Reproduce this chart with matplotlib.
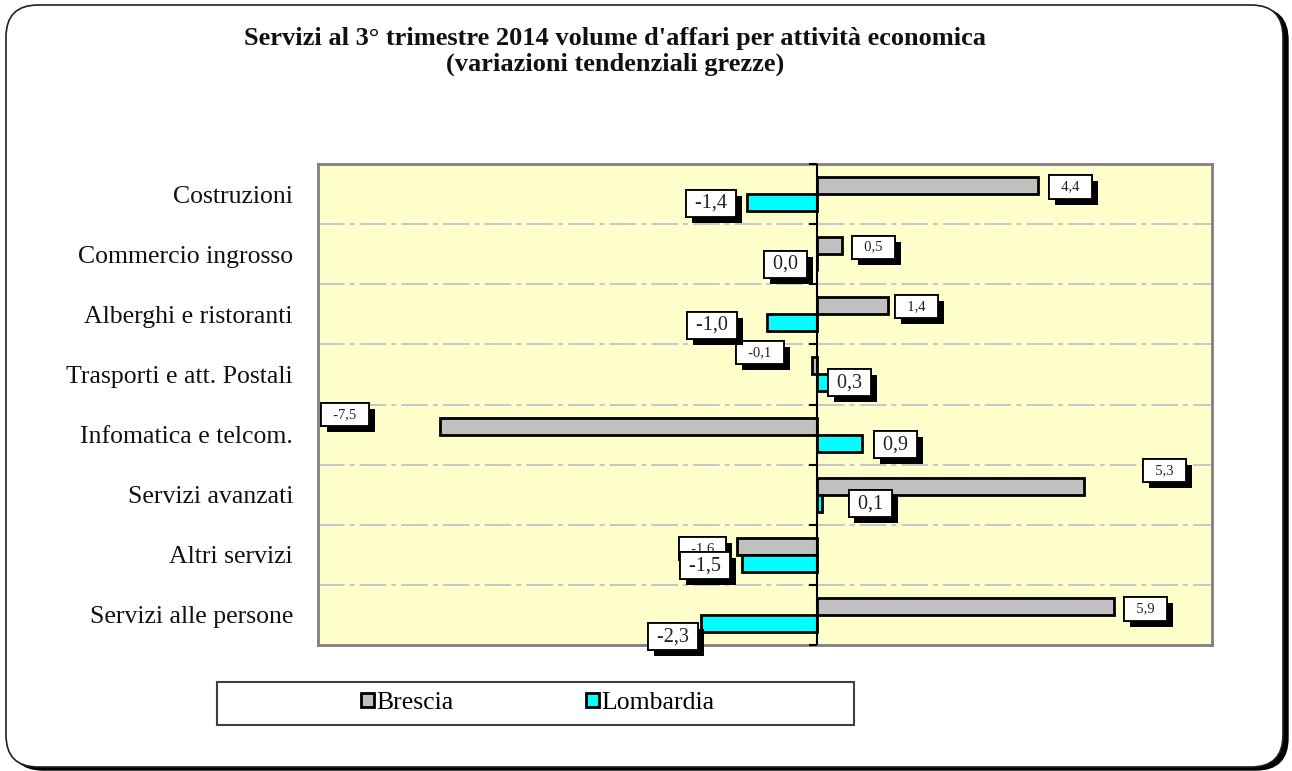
import matplotlib
matplotlib.use("Agg")
import matplotlib.pyplot as plt
import matplotlib.patheffects as pe
from matplotlib.patches import FancyBboxPatch, Rectangle, Patch
import numpy as np

# ---- data ----
categories = ["Costruzioni", "Commercio ingrosso", "Alberghi e ristoranti",
              "Trasporti e att. Postali", "Infomatica e telcom.", "Servizi avanzati",
              "Altri servizi", "Servizi alle persone"]
brescia = [4.4, 0.5, 1.4, -0.1, -7.5, 5.3, -1.6, 5.9]
lombardia = [-1.4, 0.0, -1.0, 0.3, 0.9, 0.1, -1.5, -2.3]
series_names = ["Brescia", "Lombardia"]
title_lines = ["Servizi al 3° trimestre 2014 volume d'affari per attività economica",
               "(variazioni tendenziali grezze)"]

# label offsets (pixels, relative to bar end / bar centre) - layout only
brescia_off = [(32, 1.5), (31, 1.5), (29, 0.5), (-52, -13.5), (-95, -11.5), (81, -15.5), (-34, 2), (32, 2.5)]
lombardia_off = [(-36, 0.5), (-32, 1.5), (-55, 2.5), (17, 0), (33, 1.5), (48, 0.5), (-37, 2.5), (-28, 13.5)]

SERIF = ["Liberation Serif", "DejaVu Serif"]
W, H = 1292, 771
fig = plt.figure(figsize=(W / 100, H / 100), dpi=100)

# outer rounded frame with shadow
shadow = FancyBboxPatch((0.11, 0.01), 12.77, 7.62, boxstyle="round,pad=0,rounding_size=0.32",
                        transform=fig.dpi_scale_trans, facecolor="black", edgecolor="black",
                        zorder=-3)
frame = FancyBboxPatch((0.06, 0.04), 12.77, 7.62, boxstyle="round,pad=0,rounding_size=0.32",
                       transform=fig.dpi_scale_trans, facecolor="white", edgecolor="#202020",
                       linewidth=1.2, zorder=-2)
fig.add_artist(shadow)
fig.add_artist(frame)

ax = fig.add_axes([318 / W, (H - 645) / H, (1212 - 318) / W, (645 - 164) / H])
ax.set_facecolor("#FFFFCC")
for s in ax.spines.values():
    s.set_color("#808080")
    s.set_linewidth(2)

n = len(categories)
centers = np.arange(n) + 0.5
h = 0.283
ax.barh(centers - h / 2, brescia, height=h, color="#C0C0C0", edgecolor="black", linewidth=2, zorder=3)
ax.barh(centers + h / 2, lombardia, height=h, color="#00FFFF", edgecolor="black", linewidth=2, zorder=3)

ax.set_xlim(-9.92, 7.85)
ax.set_ylim(n, 0)

# gridlines at band boundaries
for b in range(1, n):
    ax.axhline(b, color="#BDBDCC", linewidth=1.2, dashes=(16, 3, 3, 3), zorder=1)

# zero axis with ticks
ax.axvline(0, color="black", linewidth=1.5, zorder=4)
ax.plot(np.zeros(n + 1), np.arange(n + 1), linestyle="none", marker=0, markersize=6,
        markeredgewidth=1.5, color="black", zorder=4, clip_on=False)

ax.set_xticks([])
ax.set_yticks(centers)
ax.set_yticklabels(categories, fontfamily=SERIF, fontsize=18.5, color="#111111")
ax.tick_params(axis="y", length=0, pad=18)


def add_label(x, y, txt, off, fs, pad):
    t = ax.annotate(txt, xy=(x, y), xytext=(off[0], -off[1]), textcoords="offset pixels",
                    ha="center", va="center", fontsize=fs, fontfamily=SERIF, color="#222222",
                    zorder=6, annotation_clip=False,
                    bbox=dict(boxstyle=f"square,pad={pad}", facecolor="white",
                              edgecolor="black", linewidth=1.3))
    t.get_bbox_patch().set_path_effects([
        pe.withSimplePatchShadow(offset=(4.3, -4.3), shadow_rgbFace="black", alpha=1.0),
        pe.Normal()])


for i, v in enumerate(brescia):
    add_label(v, centers[i] - h / 2, "  " + f"{v:.1f}".replace(".", ",") + "  ",
              brescia_off[i], 10.5, 0.35)
for i, v in enumerate(lombardia):
    add_label(v, centers[i] + h / 2, " " + f"{v:.1f}".replace(".", ",") + " ",
              lombardia_off[i], 14.5, 0.2)

# title
fig.text(615 / W, 1 - 38 / H, title_lines[0], ha="center", va="center",
         fontsize=19, fontweight="bold", fontfamily=SERIF, color="#111111")
fig.text(615 / W, 1 - 64 / H, title_lines[1], ha="center", va="center",
         fontsize=19, fontweight="bold", fontfamily=SERIF, color="#111111")

# legend
fig.add_artist(Rectangle((217 / W, (H - 725) / H), 637 / W, 43 / H, transform=fig.transFigure,
                         facecolor="white", edgecolor="#404040", linewidth=1.5, zorder=1))
handles = [Patch(facecolor="#C0C0C0", edgecolor="black", linewidth=2),
           Patch(facecolor="#00FFFF", edgecolor="black", linewidth=2)]
leg = fig.legend(handles, series_names, loc="center", bbox_to_anchor=(538 / W, 1 - 703 / H),
                 ncol=2, frameon=False, prop={"family": SERIF, "size": 18.5},
                 handlelength=0.5, handleheight=0.5, handletextpad=0.1, columnspacing=5.15)
leg.set_zorder(2)

fig.savefig("out.png", dpi=100)
